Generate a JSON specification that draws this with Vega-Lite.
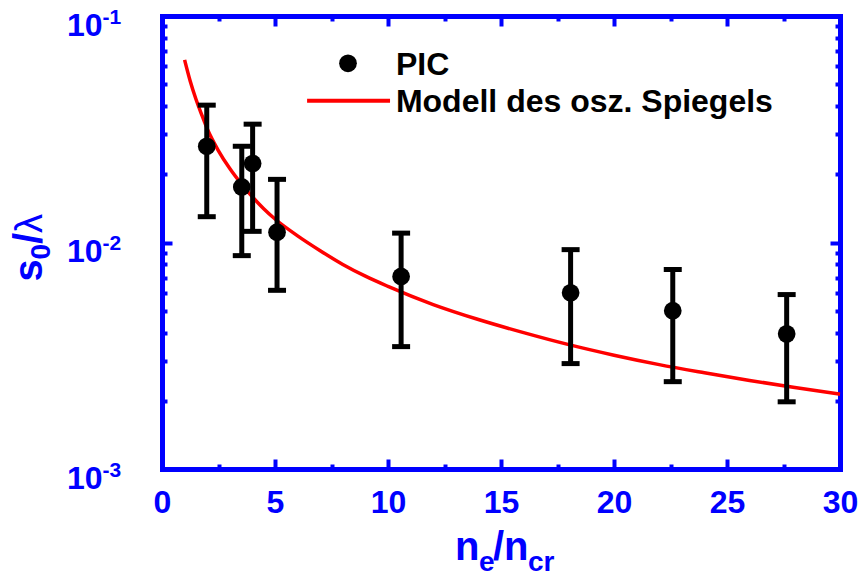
{
  "$schema": "https://vega.github.io/schema/vega-lite/v6.json",
  "width": 678,
  "height": 453,
  "autosize": {"type": "none"},
  "padding": {"left": 162, "top": 16, "right": 22, "bottom": 110},
  "background": "white",
  "datasets": {
    "pic": [
      {"x": 1.98, "y": 0.0266, "lo": 0.0130, "hi": 0.0404},
      {"x": 3.53, "y": 0.0176, "lo": 0.00875, "hi": 0.0266},
      {"x": 4.01, "y": 0.0223, "lo": 0.0112, "hi": 0.0333},
      {"x": 5.09, "y": 0.0111, "lo": 0.00615, "hi": 0.0190},
      {"x": 10.58, "y": 0.00708, "lo": 0.00347, "hi": 0.0110},
      {"x": 18.08, "y": 0.0060, "lo": 0.00292, "hi": 0.0093},
      {"x": 22.6, "y": 0.0050, "lo": 0.00243, "hi": 0.0076},
      {"x": 27.64, "y": 0.00395, "lo": 0.00198, "hi": 0.00589}
    ],
    "model": [
      {"x": 1.0, "y": 0.0640}, {"x": 1.25, "y": 0.0515}, {"x": 1.5, "y": 0.0430},
      {"x": 1.75, "y": 0.0368}, {"x": 2.0, "y": 0.0318}, {"x": 2.5, "y": 0.0254},
      {"x": 3.0, "y": 0.0212}, {"x": 3.5, "y": 0.0182}, {"x": 4.0, "y": 0.0159},
      {"x": 4.5, "y": 0.0141}, {"x": 5.0, "y": 0.0127}, {"x": 6.0, "y": 0.0107},
      {"x": 7.0, "y": 0.0092}, {"x": 8.0, "y": 0.0080}, {"x": 9.0, "y": 0.0071},
      {"x": 10.0, "y": 0.00640}, {"x": 12.0, "y": 0.00532}, {"x": 14.0, "y": 0.00457},
      {"x": 16.0, "y": 0.00400}, {"x": 18.0, "y": 0.00354}, {"x": 20.0, "y": 0.00318},
      {"x": 22.0, "y": 0.00289}, {"x": 24.0, "y": 0.00266}, {"x": 26.0, "y": 0.00246},
      {"x": 28.0, "y": 0.00229}, {"x": 30.0, "y": 0.00214}
    ],
    "one": [{}]
  },
  "layer": [
    {
      "data": {"name": "model"},
      "mark": {"type": "line", "color": "#ff0000", "strokeWidth": 3.5, "interpolate": "monotone"},
      "encoding": {
        "x": {"field": "x", "type": "quantitative", "scale": {"domain": [0, 30], "nice": false},
          "axis": {"orient": "bottom", "values": [0, 5, 10, 15, 20, 25, 30], "tickSize": -10, "labelPadding": 28, "format": "d"}},
        "y": {"field": "y", "type": "quantitative", "scale": {"type": "log", "domain": [0.001, 0.1], "nice": false},
          "axis": {"orient": "left", "values": [0.001, 0.01, 0.1], "tickSize": -10, "labelPadding": 70, "labelOffset": 9,
            "labelExpr": "'10'"}}
      }
    },
    {
      "data": {"name": "pic"},
      "mark": {"type": "rule", "color": "black", "strokeWidth": 5},
      "encoding": {
        "x": {"field": "x", "type": "quantitative", "scale": {"domain": [0, 30], "nice": false},
          "axis": {"orient": "bottom", "values": [2.5, 7.5, 12.5, 17.5, 22.5, 27.5], "tickSize": -5, "labels": false, "domain": false}},
        "y": {"field": "lo", "type": "quantitative", "scale": {"type": "log", "domain": [0.001, 0.1], "nice": false},
          "axis": {"orient": "left", "values": [0.002, 0.003, 0.004, 0.005, 0.006, 0.007, 0.008, 0.009, 0.02, 0.03, 0.04, 0.05, 0.06, 0.07, 0.08, 0.09], "tickSize": -5, "labels": false, "domain": false}},
        "y2": {"field": "hi"}
      }
    },
    {
      "data": {"name": "pic"},
      "mark": {"type": "tick", "orient": "horizontal", "color": "black", "size": 18, "thickness": 5, "opacity": 1},
      "encoding": {
        "x": {"field": "x", "type": "quantitative", "scale": {"domain": [0, 30], "nice": false},
          "axis": {"orient": "top", "values": [0, 5, 10, 15, 20, 25, 30], "tickSize": -10, "labels": false}},
        "y": {"field": "hi", "type": "quantitative", "scale": {"type": "log", "domain": [0.001, 0.1], "nice": false},
          "axis": {"orient": "right", "values": [0.001, 0.01, 0.1], "tickSize": -10, "labels": false}}
      }
    },
    {
      "data": {"name": "pic"},
      "mark": {"type": "tick", "orient": "horizontal", "color": "black", "size": 18, "thickness": 5, "opacity": 1},
      "encoding": {
        "x": {"field": "x", "type": "quantitative", "scale": {"domain": [0, 30], "nice": false},
          "axis": {"orient": "top", "values": [2.5, 7.5, 12.5, 17.5, 22.5, 27.5], "tickSize": -5, "labels": false, "domain": false}},
        "y": {"field": "lo", "type": "quantitative", "scale": {"type": "log", "domain": [0.001, 0.1], "nice": false},
          "axis": {"orient": "right", "values": [0.002, 0.003, 0.004, 0.005, 0.006, 0.007, 0.008, 0.009, 0.02, 0.03, 0.04, 0.05, 0.06, 0.07, 0.08, 0.09], "tickSize": -5, "labels": false, "domain": false}}
      }
    },
    {
      "data": {"name": "pic"},
      "mark": {"type": "point", "filled": true, "color": "black", "size": 314, "opacity": 1},
      "encoding": {
        "x": {"field": "x", "type": "quantitative", "scale": {"domain": [0, 30], "nice": false}, "axis": null},
        "y": {"field": "y", "type": "quantitative", "scale": {"type": "log", "domain": [0.001, 0.1], "nice": false},
          "axis": {"orient": "left", "values": [0.001, 0.01, 0.1], "ticks": false, "tickSize": 0, "domain": false,
            "labelPadding": 60, "labelAlign": "left", "labelOffset": 1, "labelFontSize": 21,
            "labelExpr": "datum.value > 0.05 ? '-1' : (datum.value > 0.005 ? '-2' : '-3')"}}
      }
    },
    {
      "data": {"name": "one"},
      "mark": {"type": "point", "filled": true, "color": "black", "size": 314, "opacity": 1},
      "encoding": {
        "x": {"datum": 8.23, "type": "quantitative", "axis": null},
        "y": {"datum": 0.0618, "type": "quantitative", "axis": null}
      }
    },
    {
      "data": {"name": "one"},
      "mark": {"type": "text", "text": "PIC", "align": "left", "baseline": "alphabetic", "font": "Liberation Sans", "fontWeight": "bold", "fontSize": 32, "color": "black"},
      "encoding": {
        "x": {"datum": 10.35, "type": "quantitative", "axis": null},
        "y": {"datum": 0.0549, "type": "quantitative", "axis": null}
      }
    },
    {
      "data": {"name": "one"},
      "mark": {"type": "rule", "color": "#ff0000", "strokeWidth": 4},
      "encoding": {
        "x": {"datum": 6.42, "type": "quantitative", "axis": null},
        "x2": {"datum": 10.09},
        "y": {"datum": 0.0423, "type": "quantitative", "axis": null}
      }
    },
    {
      "data": {"name": "one"},
      "mark": {"type": "text", "text": "Modell des osz. Spiegels", "align": "left", "baseline": "alphabetic", "font": "Liberation Sans", "fontWeight": "bold", "fontSize": 32, "color": "black"},
      "encoding": {
        "x": {"datum": 10.35, "type": "quantitative", "axis": null},
        "y": {"datum": 0.0377, "type": "quantitative", "axis": null}
      }
    },
    {
      "data": {"name": "one"},
      "mark": {"type": "text", "text": "n", "align": "left", "baseline": "alphabetic", "dx": -46, "dy": 91, "font": "Liberation Sans", "fontWeight": "bold", "fontSize": 40, "color": "#0000ff"},
      "encoding": {"x": {"datum": 15, "type": "quantitative", "axis": null}, "y": {"datum": 0.001, "type": "quantitative", "axis": null}}
    },
    {
      "data": {"name": "one"},
      "mark": {"type": "text", "text": "e", "align": "left", "baseline": "alphabetic", "dx": -22, "dy": 102, "font": "Liberation Sans", "fontWeight": "bold", "fontSize": 28, "color": "#0000ff"},
      "encoding": {"x": {"datum": 15, "type": "quantitative", "axis": null}, "y": {"datum": 0.001, "type": "quantitative", "axis": null}}
    },
    {
      "data": {"name": "one"},
      "mark": {"type": "text", "text": "/", "align": "left", "baseline": "alphabetic", "dx": -8, "dy": 91, "font": "Liberation Sans", "fontWeight": "bold", "fontSize": 40, "color": "#0000ff"},
      "encoding": {"x": {"datum": 15, "type": "quantitative", "axis": null}, "y": {"datum": 0.001, "type": "quantitative", "axis": null}}
    },
    {
      "data": {"name": "one"},
      "mark": {"type": "text", "text": "n", "align": "left", "baseline": "alphabetic", "dx": 3, "dy": 91, "font": "Liberation Sans", "fontWeight": "bold", "fontSize": 40, "color": "#0000ff"},
      "encoding": {"x": {"datum": 15, "type": "quantitative", "axis": null}, "y": {"datum": 0.001, "type": "quantitative", "axis": null}}
    },
    {
      "data": {"name": "one"},
      "mark": {"type": "text", "text": "cr", "align": "left", "baseline": "alphabetic", "dx": 27, "dy": 102, "font": "Liberation Sans", "fontWeight": "bold", "fontSize": 28, "color": "#0000ff"},
      "encoding": {"x": {"datum": 15, "type": "quantitative", "axis": null}, "y": {"datum": 0.001, "type": "quantitative", "axis": null}}
    },
    {
      "data": {"name": "one"},
      "mark": {"type": "text", "text": "s", "angle": 270, "align": "left", "baseline": "alphabetic", "dx": -39, "dy": -120, "font": "Liberation Sans", "fontWeight": "bold", "fontSize": 40, "color": "#0000ff"},
      "encoding": {"x": {"datum": 0, "type": "quantitative", "axis": null}, "y": {"datum": 0.01, "type": "quantitative", "axis": null}}
    },
    {
      "data": {"name": "one"},
      "mark": {"type": "text", "text": "0", "angle": 270, "align": "left", "baseline": "alphabetic", "dx": -17, "dy": -112, "font": "Liberation Sans", "fontWeight": "bold", "fontSize": 28, "color": "#0000ff"},
      "encoding": {"x": {"datum": 0, "type": "quantitative", "axis": null}, "y": {"datum": 0.01, "type": "quantitative", "axis": null}}
    },
    {
      "data": {"name": "one"},
      "mark": {"type": "text", "text": "/", "angle": 270, "align": "left", "baseline": "alphabetic", "dx": -1.5, "dy": -120, "font": "Liberation Sans", "fontWeight": "bold", "fontSize": 40, "color": "#0000ff"},
      "encoding": {"x": {"datum": 0, "type": "quantitative", "axis": null}, "y": {"datum": 0.01, "type": "quantitative", "axis": null}}
    },
    {
      "data": {"name": "one"},
      "mark": {"type": "text", "text": "λ", "angle": 270, "align": "left", "baseline": "alphabetic", "dx": 9.5, "dy": -120, "font": "Liberation Sans", "fontWeight": "normal", "fontSize": 38, "color": "#0000ff"},
      "encoding": {"x": {"datum": 0, "type": "quantitative", "axis": null}, "y": {"datum": 0.01, "type": "quantitative", "axis": null}}
    }
  ],
  "resolve": {"axis": {"x": "independent", "y": "independent"}},
  "config": {
    "view": {"stroke": null},
    "axis": {
      "domainColor": "#0000ff",
      "domainWidth": 5,
      "domainCap": "square",
      "tickColor": "#0000ff",
      "tickWidth": 4,
      "labelColor": "#0000ff",
      "labelFont": "Liberation Sans",
      "labelFontWeight": "bold",
      "labelFontSize": 32,
      "grid": false,
      "title": null,
      "labelFlush": false,
      "labelOverlap": false
    }
  }
}
